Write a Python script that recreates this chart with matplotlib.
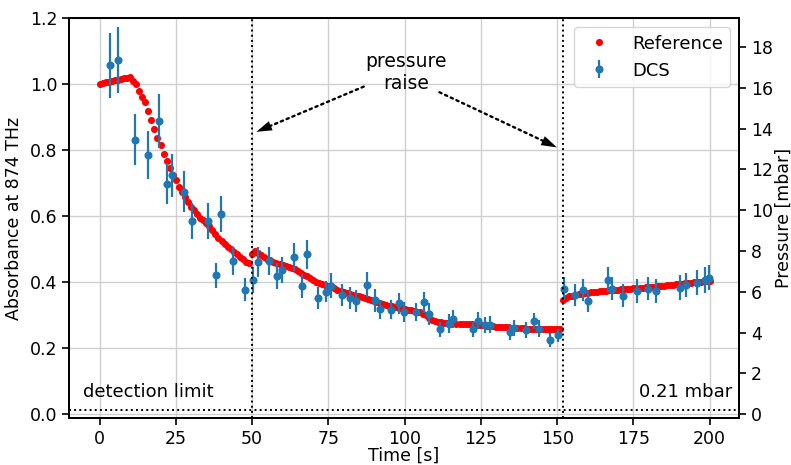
import numpy as np
import matplotlib
matplotlib.use("Agg")
import matplotlib.pyplot as plt

# ---------------- data ----------------
ref_t = np.arange(0, 201)  # reference sampled every second
ref_abs = [
    1.002, 1.004, 1.006, 1.008, 1.010, 1.012, 1.014, 1.016, 1.018, 1.020, 1.021,
    1.010, 1.000, 0.980, 0.962, 0.945, 0.918, 0.892, 0.864, 0.838, 0.815,
    0.788, 0.767, 0.746, 0.726, 0.709, 0.690, 0.674, 0.658, 0.643, 0.628,
    0.619, 0.606, 0.596, 0.588, 0.581, 0.570, 0.557, 0.545, 0.535, 0.525,
    0.516, 0.508, 0.500, 0.493, 0.485, 0.478, 0.470, 0.463, 0.458, 0.485,
    0.494, 0.488, 0.482, 0.477, 0.472, 0.467, 0.463, 0.459, 0.455, 0.452,
    0.449, 0.446, 0.443, 0.440, 0.434, 0.428, 0.423, 0.418, 0.413, 0.407,
    0.402, 0.398, 0.395, 0.392, 0.389, 0.386, 0.382, 0.378, 0.375, 0.372,
    0.369, 0.366, 0.363, 0.360, 0.357, 0.354, 0.351, 0.348, 0.345, 0.342,
    0.339, 0.336, 0.334, 0.331, 0.329, 0.327, 0.325, 0.323, 0.321, 0.319,
    0.317, 0.315, 0.313, 0.311, 0.309, 0.305, 0.300, 0.293, 0.287, 0.283,
    0.280, 0.279, 0.278, 0.277, 0.276, 0.276, 0.275, 0.275, 0.274, 0.274,
    0.273, 0.273, 0.272, 0.272, 0.271, 0.270, 0.269, 0.268, 0.267, 0.266,
    0.265, 0.265, 0.264, 0.264, 0.263, 0.262, 0.262, 0.261, 0.261, 0.260,
    0.260, 0.260, 0.259, 0.259, 0.258, 0.258, 0.258, 0.257, 0.257, 0.257, 0.257,
    0.345, 0.352, 0.357, 0.360, 0.362, 0.364, 0.366, 0.367, 0.369,
    0.370, 0.371, 0.372, 0.373, 0.374, 0.375, 0.376, 0.377, 0.377, 0.378,
    0.379, 0.380, 0.380, 0.381, 0.382, 0.383, 0.383, 0.384, 0.385, 0.386,
    0.387, 0.387, 0.388, 0.389, 0.390, 0.391, 0.392, 0.393, 0.394, 0.395,
    0.396, 0.397, 0.398, 0.399, 0.400, 0.401, 0.402, 0.403, 0.404, 0.405,
]

dcs_t = [3.4, 6.2, 11.6, 15.9, 19.6, 22.2, 23.9, 27.6, 30.2, 35.6,
         38.3, 39.9, 43.7, 47.6, 50.2, 52.0, 55.7, 58.3, 59.9, 63.7,
         66.3, 67.9, 71.6, 74.3, 75.9, 79.6, 82.2, 84.0, 87.6, 90.3,
         92.0, 95.6, 98.3, 99.9, 103.7, 106.3, 108.0, 111.6, 114.4, 116.0,
         122.4, 124.0, 126.4, 128.0, 134.4, 136.0, 139.7, 142.4, 144.0, 147.7,
         150.4, 152.1, 155.9, 158.4, 160.2, 166.5, 168.1, 171.7, 176.1, 179.7,
         182.4, 190.4, 192.1, 195.8, 198.4, 199.9]
dcs_abs = [1.058, 1.073, 0.832, 0.785, 0.888, 0.699, 0.724, 0.674, 0.586, 0.586,
           0.421, 0.608, 0.465, 0.378, 0.407, 0.461, 0.465, 0.420, 0.437, 0.477,
           0.388, 0.485, 0.353, 0.372, 0.390, 0.361, 0.353, 0.343, 0.393, 0.345,
           0.318, 0.317, 0.336, 0.310, 0.309, 0.340, 0.304, 0.257, 0.275, 0.290,
           0.257, 0.283, 0.270, 0.272, 0.249, 0.262, 0.255, 0.282, 0.260, 0.224,
           0.239, 0.381, 0.361, 0.376, 0.342, 0.408, 0.381, 0.359, 0.373, 0.381,
           0.373, 0.384, 0.392, 0.399, 0.408, 0.414]
dcs_err = [0.098, 0.100, 0.077, 0.073, 0.082, 0.062, 0.066, 0.062, 0.055, 0.055,
           0.039, 0.055, 0.043, 0.035, 0.039, 0.045, 0.043, 0.039, 0.040, 0.043,
           0.036, 0.044, 0.033, 0.033, 0.037, 0.034, 0.033, 0.034, 0.037, 0.034,
           0.029, 0.029, 0.032, 0.031, 0.027, 0.032, 0.033, 0.024, 0.028, 0.027,
           0.024, 0.026, 0.025, 0.025, 0.025, 0.025, 0.025, 0.025, 0.025, 0.021,
           0.021, 0.035, 0.034, 0.033, 0.033, 0.037, 0.035, 0.035, 0.036, 0.036,
           0.036, 0.038, 0.037, 0.037, 0.039, 0.037]

pressure_raise_t = [50, 152]
detection_limit_mbar = 0.21
x_ticks = [0, 25, 50, 75, 100, 125, 150, 175, 200]
y_ticks = [0.0, 0.2, 0.4, 0.6, 0.8, 1.0, 1.2]
p_ticks = [0, 2, 4, 6, 8, 10, 12, 14, 16, 18]

# ---------------- figure ----------------
plt.rcParams['font.family'] = ['DejaVu Sans']
FS = 12.5
fig = plt.figure(figsize=(7.91, 4.65), dpi=100)
ax = fig.add_axes([69/791, 1-418.3/465, (739-69)/791, (418.3-18.3)/465])

ax.grid(True, color='#cfcfcf', lw=1.0, zorder=0)
ax.set_axisbelow(True)

ax.plot(ref_t, ref_abs, 'o', color='red', ms=5.1, mec='none', label='Reference', zorder=3)
ax.errorbar(dcs_t, dcs_abs, yerr=dcs_err, fmt='o', color='#1f77b4', ms=4.8,
            elinewidth=1.6, capsize=0, label='DCS', zorder=4)

for xv in pressure_raise_t:
    ax.axvline(xv, color='black', ls=':', lw=1.4, zorder=5)

ax.set_xlim(-10, 209.6)
ax.set_ylim(-0.0121, 1.2)
ax.set_xticks(x_ticks)
ax.set_yticks(y_ticks)
ax.set_yticklabels([f"{v:.1f}" for v in y_ticks])
ax.tick_params(labelsize=FS, width=1.2, length=5)
ax.set_xlabel('Time [s]', fontsize=FS, labelpad=-1)
ax.set_ylabel('Absorbance at 874 THz', fontsize=FS, labelpad=5)
for s in ax.spines.values():
    s.set_linewidth(1.3)

ax2 = ax.twinx()
ax2.set_ylim(-0.196, 19.41)
ax2.set_yticks(p_ticks)
ax2.axhline(detection_limit_mbar, color='black', ls=':', lw=1.4, zorder=5)
ax2.tick_params(labelsize=FS, width=1.2, length=5)
ax2.set_ylabel('Pressure [mbar]', fontsize=FS, labelpad=1)
for s in ax2.spines.values():
    s.set_linewidth(1.3)

ax.text(-5.4, 0.067, 'detection limit', fontsize=13, ha='left', va='center')
ax.text(207.5, 0.067, '0.21 mbar', fontsize=13, ha='right', va='center')

ax.text(100.4, 1.036, 'pressure\nraise', fontsize=13.5, ha='center', va='center',
        linespacing=1.15)

arrows = [((86.6, 0.993), (51.4, 0.856)), ((111.4, 0.976), (149.9, 0.809))]
for (tail, tip) in arrows:
    ax.annotate('', xy=tip, xytext=tail,
                arrowprops=dict(arrowstyle='-', ls=':', lw=1.7, color='black',
                                shrinkA=0, shrinkB=4))
    near = (tip[0] + (tail[0] - tip[0]) * 0.15, tip[1] + (tail[1] - tip[1]) * 0.15)
    ax.annotate('', xy=tip, xytext=near,
                arrowprops=dict(arrowstyle='-|>,head_length=0.7,head_width=0.22',
                                lw=0.01, color='black', mutation_scale=16,
                                shrinkA=0, shrinkB=0))

h1, l1 = ax.get_legend_handles_labels()
leg = ax.legend(h1, l1, loc='upper right', fontsize=13, framealpha=0.8,
                borderaxespad=0.5)
leg.set_zorder(10)

fig.savefig('out.png', dpi=100)
